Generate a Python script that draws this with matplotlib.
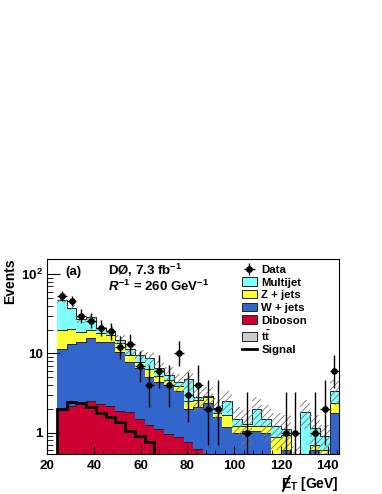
import numpy as np
import matplotlib
matplotlib.use("Agg")
import matplotlib.pyplot as plt
from matplotlib.patches import Patch
from matplotlib.lines import Line2D
from matplotlib.ticker import MultipleLocator, LogLocator, NullFormatter
from math import exp, factorial

plt.rcParams['font.family'] = 'Liberation Sans'
plt.rcParams['font.weight'] = 'bold'
plt.rcParams['mathtext.fontset'] = 'custom'
plt.rcParams['mathtext.rm'] = 'Liberation Sans:bold'
plt.rcParams['mathtext.bf'] = 'Liberation Sans:bold'
plt.rcParams['mathtext.it'] = 'Liberation Sans:bold:italic'
plt.rcParams['hatch.linewidth'] = 0.6

# 30 bins of 125/30 GeV between 20 and 145, the first one is empty
edges = np.linspace(20, 145, 31)[1:]

data = [53, 46, 30, 26, 21, 19, 12, 13, 7, 4, 6, 4, 10, 3, 4, 2, 2, 0, 0, 1,
        0, 0, 0, 1, 1, 0, 1, 2, 6]
ttbar = [0.35, 0.4, 0.4, 0.4, 0.35, 0.35, 0.3, 0.3, 0.25, 0.22, 0.2, 0.18, 0.15, 0.14, 0.12,
         0.1, 0.1, 0.08, 0.08, 0.06, 0.06, 0.05, 0.05, 0.04, 0.04, 0.03, 0.03, 0.03, 0.03]
diboson = [1.58, 1.8, 1.95, 2.1, 1.93, 1.85, 1.57, 1.52, 1.23, 1.03, 0.9, 0.78, 0.73, 0.63, 0.5,
           0.35, 0.3, 0.25, 0.22, 0.19, 0.16, 0.15, 0.13, 0.11, 0.08, 0.07, 0.07, 0.05, 0.05]
wjets = [9.37, 11.1, 11.65, 13.0, 11.72, 11.6, 8.63, 6.08, 5.12, 3.75, 3.3, 3.04, 2.52, 1.23, 1.48,
         1.9, 1.2, 0.86, 0.68, 0.8, 0.83, 0.8, 0.12, 0.45, 0.08, 0.1, 0.5, 0.42, 1.67]
zjets = [8.2, 7.0, 4.8, 4.5, 4.0, 3.5, 2.9, 1.6, 1.2, 1.3, 0.8, 0.6, 0.5, 0.5, 0.5,
         0.5, 0.2, 0.48, 0.22, 0.15, 0.15, 0.2, 0.58, 0.35, 0.1, 0.05, 0.1, 0.1, 0.6]
multijet = [27.5, 17.7, 8.2, 9.0, 3.0, 1.7, 1.6, 1.8, 1.9, 2.4, 1.4, 0.8, 0.5, 2.3, 0.2,
            0.05, 0.25, 0.88, 0.3, 0.1, 0.8, 0.3, 0.32, 0.15, 0.15, 1.6, 0.45, 0.3, 1.05]
rel_unc = [0.08, 0.08, 0.1, 0.1, 0.12, 0.12, 0.13, 0.15, 0.15, 0.2, 0.25, 0.25, 0.25, 0.3, 0.35,
           0.3, 0.35, 0.3, 0.4, 0.5, 0.4, 0.5, 0.5, 0.5, 0.5, 0.4, 0.45, 0.4, 0.35]
signal = [1.97, 2.46, 2.4, 2.09, 1.8, 1.56, 1.35, 1.06, 0.91, 0.77, 0.5, 0.42, 0.35, 0.3, 0.25,
          0.2, 0.17, 0.14, 0.12, 0.1, 0.09, 0.08, 0.07, 0.06, 0.05, 0.04, 0.04, 0.03, 0.03]


def poisson_cdf(k, mu):
    return sum(mu**i * exp(-mu) / factorial(i) for i in range(k + 1))


def garwood(n, a=0.158655):
    # upper limit
    lo, hi = float(n), n + 10 * np.sqrt(n + 1) + 10
    for _ in range(60):
        mid = 0.5 * (lo + hi)
        if poisson_cdf(n, mid) > a:
            lo = mid
        else:
            hi = mid
    up = 0.5 * (lo + hi)
    if n == 0:
        return 0.0, up
    lo, hi = 0.0, float(n)
    for _ in range(60):
        mid = 0.5 * (lo + hi)
        if poisson_cdf(n - 1, mid) > 1 - a:
            lo = mid
        else:
            hi = mid
    return 0.5 * (lo + hi), up


fig = plt.figure(figsize=(3.82, 4.94), dpi=100)
ax = fig.add_axes([0.1238, 0.081, 0.7644, 0.394])

layers = [(ttbar, '#cccccc'), (diboson, '#cc0033'), (wjets, '#3366cc'),
          (zjets, '#ffff33'), (multijet, '#80ffff')]
cum = np.full(len(data), 1e-3)
for vals, col in layers:
    top = cum + np.array(vals)
    ax.stairs(top, edges, baseline=cum, fill=True, color=col, lw=0)
    ax.stairs(top, edges, baseline=None, color='#222222', lw=0.7)
    cum = top

tot = cum
unc = np.array(rel_unc)
ax.stairs(tot * (1 + unc), edges, baseline=tot * (1 - unc), fill=True,
          facecolor='none', edgecolor='#777777', hatch='/////', lw=0)

ax.stairs(signal, edges, baseline=1e-3, color='black', lw=2)

n = np.array(data)
centers = 0.5 * (edges[:-1] + edges[1:])
half = 0.5 * (edges[1] - edges[0])
m = n > 0
lims = np.array([garwood(k) for k in n[m]])
derr = ax.errorbar(centers[m], n[m], xerr=half,
                   yerr=[n[m] - lims[:, 0], lims[:, 1] - n[m]],
                   fmt='o', color='black', ms=3.8, lw=1.0, capsize=0)

ax.set_yscale('log')
ax.set_xlim(20, 145)
ax.set_ylim(0.54, 154)
ax.xaxis.set_major_locator(MultipleLocator(20))
ax.xaxis.set_minor_locator(MultipleLocator(4))
ax.set_yticks([1, 10, 100])
ax.set_yticklabels(['1', '10', '$10^{2}$'])
ax.yaxis.set_minor_locator(LogLocator(base=10, subs=np.arange(2, 10)))
ax.yaxis.set_minor_formatter(NullFormatter())
ax.tick_params(which='both', direction='in', top=False, right=False, labelsize=9.7)
ax.tick_params(axis='x', which='major', length=6, pad=4.5)
ax.tick_params(axis='x', which='minor', length=3)
ax.tick_params(axis='y', which='major', length=9, pad=3)
ax.tick_params(axis='y', which='minor', length=4.5)

ax.text(0.061, 0.921, '(a)', transform=ax.transAxes, fontsize=9.5, va='baseline')
ax.text(0.209, 0.921, r'DØ, 7.3 fb$^{-1}$', transform=ax.transAxes, fontsize=9.5,
        va='baseline')
ax.text(0.209, 0.835, r'$R^{-1}$ = 260 GeV$^{-1}$', transform=ax.transAxes, fontsize=9.5,
        va='baseline')

handles = [derr,
           Patch(facecolor='#80ffff', edgecolor='#222222', lw=0.7),
           Patch(facecolor='#ffff33', edgecolor='#222222', lw=0.7),
           Patch(facecolor='#3366cc', edgecolor='#222222', lw=0.7),
           Patch(facecolor='#cc0033', edgecolor='#222222', lw=0.7),
           Patch(facecolor='#cccccc', edgecolor='#222222', lw=0.7),
           Line2D([], [], color='black', lw=2)]
labels = ['Data', 'Multijet', 'Z + jets', 'W + jets', 'Diboson',
          r't$\bar{\mathrm{t}}$', 'Signal']
ax.legend(handles, labels, loc='upper left', bbox_to_anchor=(0.666, 0.972),
          frameon=False, fontsize=8.2, handlelength=1.35, handleheight=0.75,
          handletextpad=0.35, labelspacing=0.22, borderpad=0, borderaxespad=0)

fig.text(10 / 382, 1 - 258 / 494, 'Events', rotation=90, ha='center', va='top', fontsize=10)
xl = fig.text(339 / 382, 1 - 484 / 494, r'E$_{\mathrm{T}}$ [GeV]', ha='right', va='center',
              fontsize=10)

# slash through the E of the missing-ET label
fig.canvas.draw()
bb = xl.get_window_extent()
x0, y0 = bb.x0, bb.y0
fig.add_artist(Line2D([(x0 + 1.5) / 382, (x0 + 8.5) / 382],
                      [(y0 + 2) / 494, (y0 + bb.height - 1) / 494],
                      transform=fig.transFigure, color='black', lw=1.3))

fig.savefig('out.png', dpi=100)
